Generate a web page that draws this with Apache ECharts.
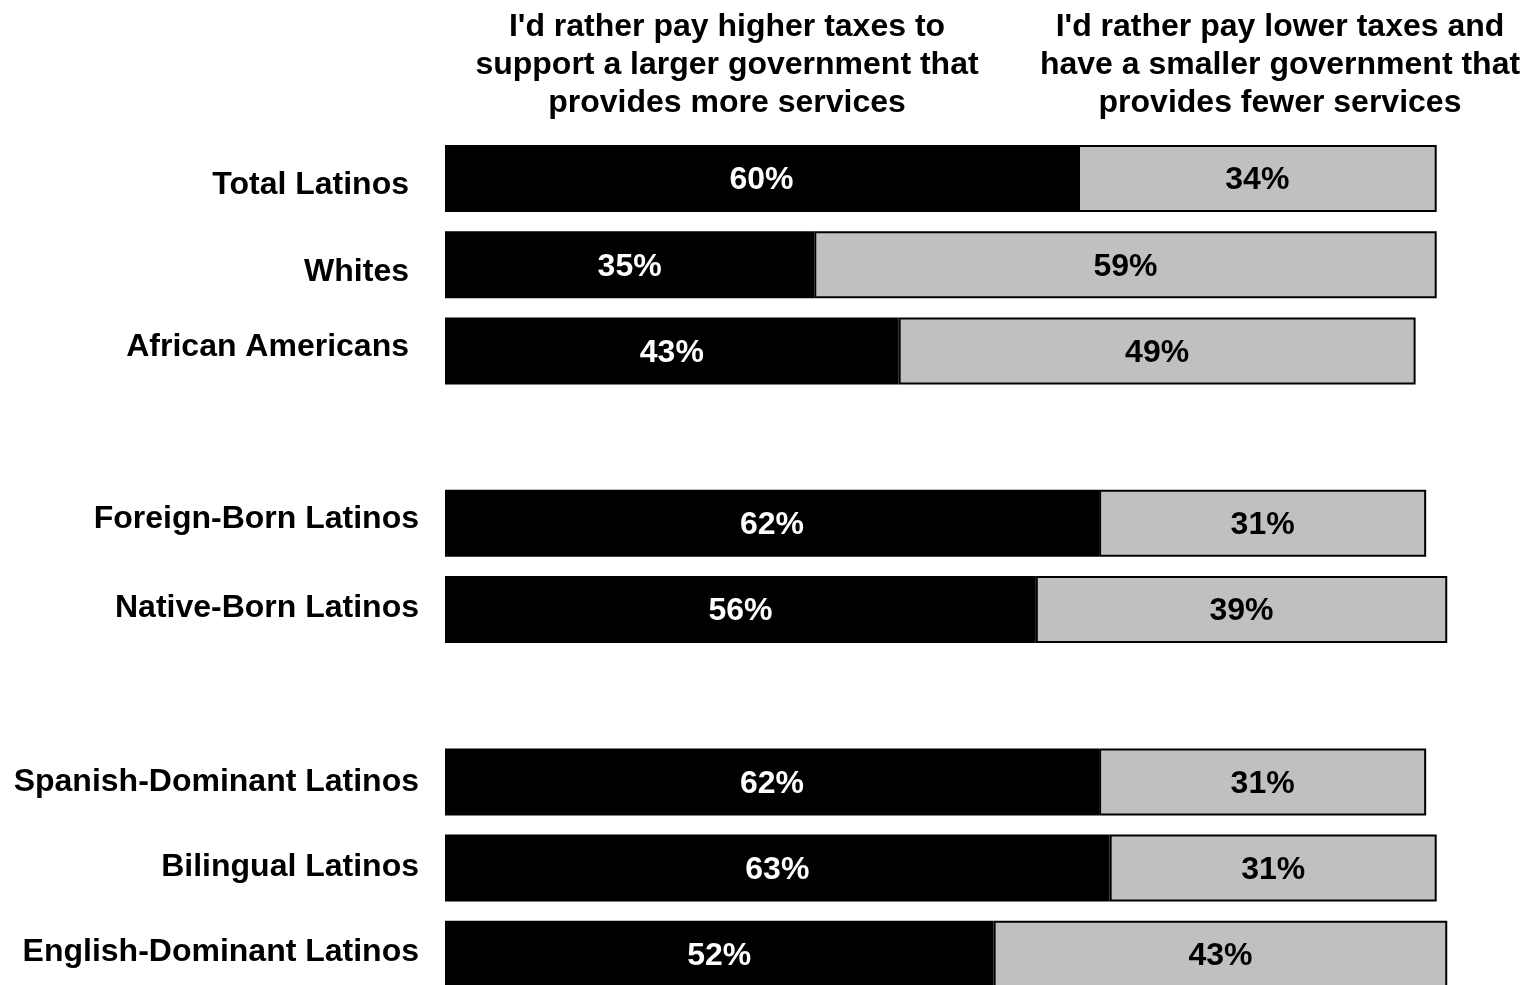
<!DOCTYPE html>
<html>
<head>
<meta charset="utf-8">
<script src="https://cdn.jsdelivr.net/npm/echarts@6/dist/echarts.min.js"></script>
<style>html,body{margin:0;padding:0;background:#fff}#c{width:1525px;height:985px}</style>
</head>
<body>
<div id="c"></div>
<script>
var categories = ['Total Latinos','Whites','African Americans','','Foreign-Born Latinos','Native-Born Latinos','','Spanish-Dominant Latinos','Bilingual Latinos','English-Dominant Latinos'];
var higherTaxes = [60,35,43,null,62,56,null,62,63,52];
var lowerTaxes = [34,59,49,null,31,39,null,31,31,43];
var headerHigher = "I'd rather pay higher taxes to\nsupport a larger government that\nprovides more services";
var headerLower = "I'd rather pay lower taxes and\nhave a smaller government that\nprovides fewer services";

var FONT = '"Liberation Sans", Arial, sans-serif';
// per-label nudges [top,right,bottom,left]
var labelPad = [[14,10,0,0],[14,10,0,0],[0,10,8,0],[0,0,0,0],[0,0,8,0],[0,0,2,0],[0,0,0,0],[0,0,0,0],[0,0,2,0],[0,0,4,0]];
var rich = {};
labelPad.forEach(function(p,i){
  rich['p'+i] = {padding:p, color:'#000', fontSize:32, fontWeight:'bold', fontFamily:FONT};
});

var chart = echarts.init(document.getElementById('c'));
chart.setOption({
  animation:false,
  backgroundColor:'#fff',
  grid:{left:445, width:1055, top:178.5, height:775.8, containLabel:false},
  xAxis:{type:'value', min:0, max:100, show:false},
  yAxis:{type:'category', inverse:true, data:categories, boundaryGap:false,
    axisLine:{show:false}, axisTick:{show:false}, splitLine:{show:false},
    axisLabel:{margin:26, color:'#000', fontSize:32, fontWeight:'bold', fontFamily:FONT,
      formatter:function(v,i){ return v ? '{p'+i+'|'+v+'}' : ''; }, rich:rich}},
  series:[
    {name:'higher', type:'bar', stack:'s', data:higherTaxes, barWidth:67, clip:false,
     itemStyle:{color:'#000', borderColor:'#000', borderWidth:1.5},
     label:{show:true, position:'inside', offset:[0,2], formatter:'{c}%', color:'#fff', fontSize:32, fontWeight:'bold', fontFamily:FONT}},
    {name:'lower', type:'bar', stack:'s', data:lowerTaxes, barWidth:67, clip:false,
     itemStyle:{color:'#C0C0C0', borderColor:'#000', borderWidth:2},
     label:{show:true, position:'inside', offset:[0,2], formatter:'{c}%', color:'#000', fontSize:32, fontWeight:'bold', fontFamily:FONT}}
  ],
  graphic:[
    {type:'text', x:727, y:8, style:{text:headerHigher, x:0, y:0, align:'center', verticalAlign:'top', fill:'#000', fontSize:32, fontWeight:'bold', fontFamily:FONT, lineHeight:38}},
    {type:'text', x:1280, y:8, style:{text:headerLower, x:0, y:0, align:'center', verticalAlign:'top', fill:'#000', fontSize:32, fontWeight:'bold', fontFamily:FONT, lineHeight:38}}
  ]
});
</script>
</body>
</html>
